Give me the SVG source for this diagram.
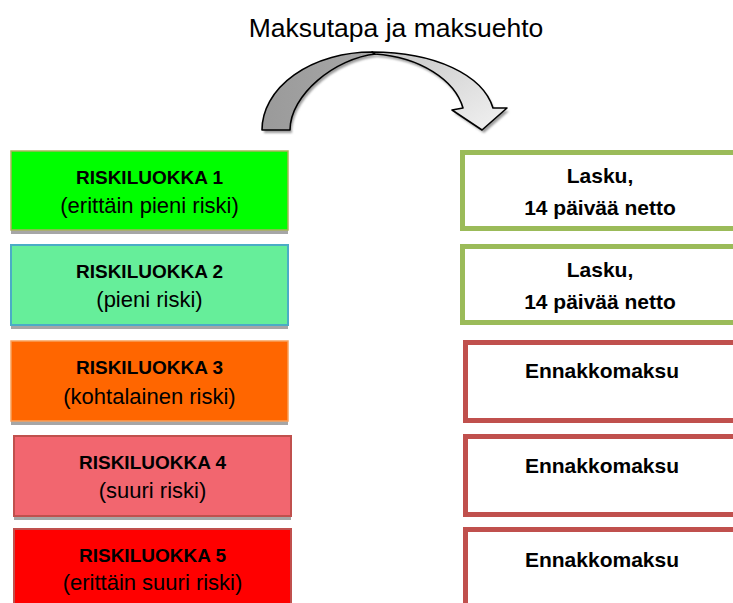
<svg xmlns="http://www.w3.org/2000/svg" width="733" height="603" viewBox="0 0 733 603">
<style>
text{font-family:"Liberation Sans",Arial,sans-serif;fill:#000;text-anchor:middle}
.t{font-size:26.5px}
.b{font-size:19px;font-weight:bold}
.r{font-size:22px}
.rb{font-size:21px;font-weight:bold}
.sh{fill:#a6a6a6}
.g{fill:#fff;stroke:#9bbb59;stroke-width:5}
.red{fill:#fff;stroke:#c0504d;stroke-width:5}
.ar{stroke:#000;stroke-width:1.6;stroke-linejoin:round}
</style>
<defs>
<linearGradient id="gl" x1="0" y1="0" x2="1" y2="0">
<stop offset="0" stop-color="#9a9a9a"/><stop offset="1" stop-color="#a8a8a8"/>
</linearGradient>
<linearGradient id="gr" x1="0" y1="0" x2="1" y2="1">
<stop offset="0" stop-color="#c4c4c4"/><stop offset="0.5" stop-color="#dcdcdc"/><stop offset="1" stop-color="#f2f2f2"/>
</linearGradient>
<filter id="blur" x="-10%" y="-10%" width="120%" height="120%"><feGaussianBlur stdDeviation="1.2"/></filter>
</defs>
<text class="t" x="396" y="37">Maksutapa ja maksuehto</text>
<g id="arrow">
<g transform="translate(2,3)" filter="url(#blur)" fill="#9c9c9c">
<path d="M262,130 A110,78 0 0 1 372,52 C435,52 483,75 493,108 L507,108 L482,130 L452,110 L463,108 C455,80 420,57 375,54 C335,58 290,95 290,130 Z"/>
</g>
<path class="ar" fill="url(#gl)" d="M262,130 A110,78 0 0 1 372,52 L376,54 C335,58 290,95 290,130 Z"/>
<path class="ar" fill="url(#gr)" d="M372,52 C435,52 483,75 493,108 L507,108 L482,130 L452,110 L463,108 C455,80 420,57 375,54 Z"/>
</g>
<g id="riski1">
<rect class="sh" x="11" y="155" width="277" height="79"/>
<rect x="11" y="151" width="277" height="79" fill="#00ff00" stroke="#aab25c" stroke-width="1.5"/>
<text class="b" x="149.5" y="184">RISKILUOKKA 1</text>
<text class="r" x="149.5" y="213">(erittäin pieni riski)</text>
</g>
<g id="riski2">
<rect class="sh" x="11" y="249" width="277" height="80"/>
<rect x="11" y="245" width="277" height="80" fill="#66ee9a" stroke="#4bacc6" stroke-width="2"/>
<text class="b" x="149.5" y="278">RISKILUOKKA 2</text>
<text class="r" x="149.5" y="307">(pieni riski)</text>
</g>
<g id="riski3">
<rect class="sh" x="11" y="345" width="277" height="80"/>
<rect x="11" y="341" width="277" height="80" fill="#ff6600" stroke="#f9a05a" stroke-width="1.5"/>
<text class="b" x="149.5" y="374">RISKILUOKKA 3</text>
<text class="r" x="149.5" y="404">(kohtalainen riski)</text>
</g>
<g id="riski4">
<rect class="sh" x="14" y="440" width="277" height="80"/>
<rect x="14" y="436" width="277" height="80" fill="#f2666f" stroke="#c0504d" stroke-width="2"/>
<text class="b" x="152.5" y="469">RISKILUOKKA 4</text>
<text class="r" x="152.5" y="498">(suuri riski)</text>
</g>
<g id="riski5">
<rect x="14" y="529" width="277" height="90" fill="#ff0000" stroke="#c0504d" stroke-width="2"/>
<text class="b" x="152.5" y="562">RISKILUOKKA 5</text>
<text class="r" x="152.5" y="590">(erittäin suuri riski)</text>
</g>
<g id="maksu1">
<rect class="g" x="462.5" y="152.5" width="300" height="76"/>
<text class="rb" x="600" y="183">Lasku,</text>
<text class="rb" x="600" y="215">14 päivää netto</text>
</g>
<g id="maksu2">
<rect class="g" x="462.5" y="246.5" width="300" height="76"/>
<text class="rb" x="600" y="277">Lasku,</text>
<text class="rb" x="600" y="309">14 päivää netto</text>
</g>
<g id="maksu3">
<rect class="red" x="465.5" y="342.5" width="300" height="78"/>
<text class="rb" x="602" y="378">Ennakkomaksu</text>
</g>
<g id="maksu4">
<rect class="red" x="465.5" y="436.5" width="300" height="78"/>
<text class="rb" x="602" y="473">Ennakkomaksu</text>
</g>
<g id="maksu5">
<rect class="red" x="465.5" y="529.5" width="300" height="100"/>
<text class="rb" x="602" y="567">Ennakkomaksu</text>
</g>
<g id="connectors"></g>
</svg>
